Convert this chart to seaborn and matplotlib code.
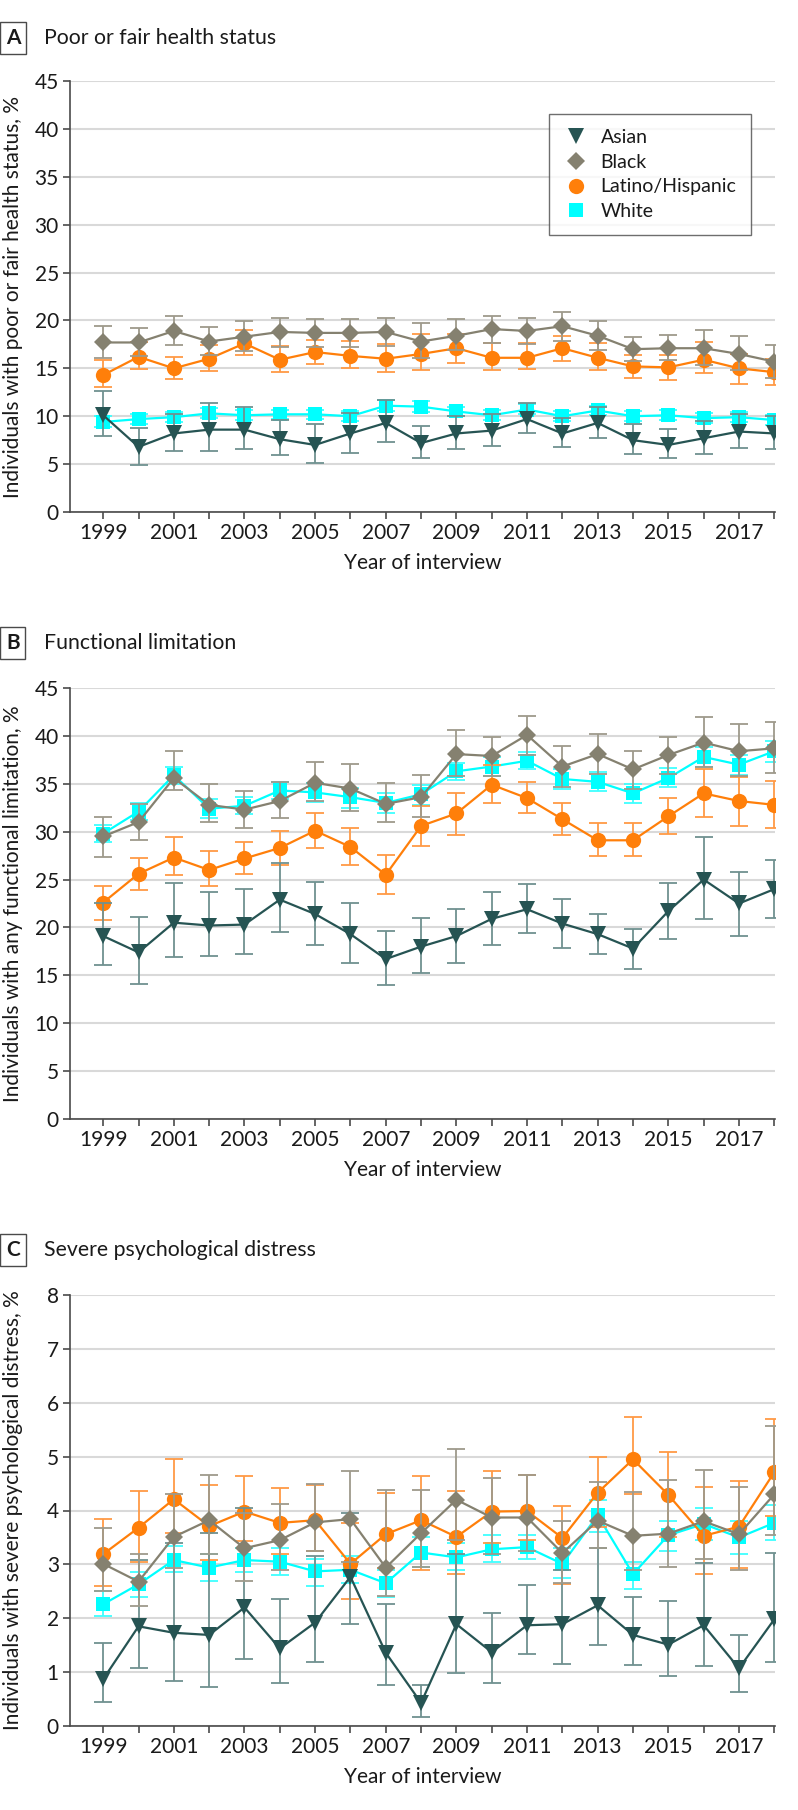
import matplotlib
matplotlib.use("Agg")
import matplotlib.pyplot as plt
from matplotlib.lines import Line2D
import pandas as pd
import seaborn as sns

years = list(range(1999, 2019))
year_labels = [str(y) if y % 2 == 1 else "" for y in years]
groups = ["Asian", "Black", "Latino/Hispanic", "White"]

# A: poor or fair health status
a_asian = [10.1, 6.8, 8.2, 8.6, 8.6, 7.6, 7.0, 8.2, 9.3, 7.2, 8.2, 8.5, 9.7, 8.2, 9.3, 7.5, 7.0, 7.7, 8.4, 8.2]
a_asian_lo = [7.9, 4.9, 6.4, 6.4, 6.6, 5.9, 5.1, 6.2, 7.3, 5.6, 6.6, 6.9, 8.3, 6.8, 7.7, 6.1, 5.6, 6.1, 6.7, 6.6]
a_asian_hi = [12.6, 8.8, 10.2, 11.4, 11.0, 9.6, 9.2, 10.3, 11.7, 9.0, 10.0, 10.2, 11.4, 9.8, 11.0, 9.2, 8.7, 9.5, 10.2, 10.0]
a_black = [17.7, 17.7, 18.9, 17.8, 18.3, 18.8, 18.7, 18.7, 18.8, 17.8, 18.4, 19.1, 18.9, 19.4, 18.4, 17.0, 17.1, 17.1, 16.5, 15.7]
a_black_lo = [16.1, 16.3, 17.4, 16.4, 16.8, 17.2, 17.2, 17.2, 17.3, 16.1, 16.9, 17.6, 17.5, 17.9, 16.9, 15.8, 15.9, 15.3, 14.8, 14.0]
a_black_hi = [19.4, 19.2, 20.5, 19.3, 19.9, 20.3, 20.1, 20.1, 20.3, 19.7, 20.1, 20.5, 20.3, 20.9, 19.9, 18.3, 18.5, 19.0, 18.4, 17.4]
a_latino = [14.3, 16.2, 15.0, 16.0, 17.6, 15.9, 16.7, 16.3, 16.0, 16.5, 17.1, 16.1, 16.1, 17.1, 16.1, 15.2, 15.1, 15.9, 15.0, 14.6]
a_latino_lo = [13.0, 14.9, 13.9, 14.7, 16.4, 14.6, 15.5, 15.0, 14.6, 14.8, 15.6, 14.8, 14.9, 15.8, 14.8, 14.0, 13.8, 14.5, 13.4, 13.3]
a_latino_hi = [15.9, 17.7, 16.2, 17.4, 19.0, 17.3, 18.0, 17.9, 17.5, 18.6, 18.6, 17.6, 17.6, 18.4, 17.6, 16.4, 16.4, 17.7, 16.5, 16.0]
a_white = [9.4, 9.7, 9.9, 10.3, 10.1, 10.2, 10.2, 10.0, 11.1, 11.0, 10.5, 10.1, 10.7, 10.0, 10.6, 10.0, 10.1, 9.8, 9.9, 9.6]
a_white_lo = [8.9, 9.2, 9.4, 9.8, 9.6, 9.7, 9.7, 9.5, 10.5, 10.4, 10.0, 9.6, 10.2, 9.5, 10.1, 9.5, 9.6, 9.3, 9.4, 9.1]
a_white_hi = [10.0, 10.2, 10.4, 10.9, 10.7, 10.7, 10.7, 10.5, 11.7, 11.6, 11.0, 10.6, 11.3, 10.5, 11.1, 10.5, 10.6, 10.3, 10.4, 10.1]

# B: functional limitation
b_asian = [19.1, 17.4, 20.5, 20.2, 20.3, 22.9, 21.4, 19.3, 16.7, 18.0, 19.1, 20.9, 21.9, 20.4, 19.3, 17.8, 21.7, 25.0, 22.5, 24.0]
b_asian_lo = [16.1, 14.1, 16.9, 17.0, 17.2, 19.5, 18.2, 16.3, 14.0, 15.2, 16.3, 18.2, 19.4, 17.9, 17.2, 15.7, 18.8, 20.9, 19.1, 21.0]
b_asian_hi = [22.5, 21.1, 24.6, 23.7, 24.0, 26.7, 24.7, 22.5, 19.6, 21.0, 21.9, 23.7, 24.5, 23.0, 21.4, 19.8, 24.6, 29.4, 25.8, 27.0]
b_black = [29.5, 31.0, 35.6, 32.8, 32.3, 33.2, 35.1, 34.5, 32.9, 33.6, 38.1, 37.9, 40.1, 36.8, 38.1, 36.5, 38.0, 39.3, 38.4, 38.7]
b_black_lo = [27.4, 29.1, 34.4, 31.0, 30.4, 31.4, 33.2, 32.2, 31.0, 31.5, 35.8, 35.8, 38.0, 34.7, 36.0, 34.5, 36.0, 36.8, 35.8, 36.1]
b_black_hi = [31.5, 32.9, 38.4, 35.0, 34.2, 35.2, 37.3, 37.1, 35.1, 35.9, 40.6, 39.9, 42.1, 38.9, 40.2, 38.4, 39.9, 42.0, 41.2, 41.4]
b_latino = [22.6, 25.6, 27.3, 26.0, 27.2, 28.3, 30.1, 28.4, 25.5, 30.6, 31.9, 34.9, 33.5, 31.3, 29.1, 29.1, 31.6, 34.0, 33.2, 32.8]
b_latino_lo = [20.8, 23.9, 25.5, 24.3, 25.6, 26.5, 28.3, 26.5, 23.5, 28.5, 29.7, 33.0, 32.0, 29.7, 27.5, 27.5, 29.8, 31.5, 30.6, 30.4]
b_latino_hi = [24.3, 27.2, 29.4, 28.0, 28.9, 30.1, 31.9, 30.4, 27.6, 32.7, 34.0, 37.0, 35.2, 33.0, 30.9, 30.9, 33.5, 36.5, 35.7, 35.3]
b_white = [29.8, 32.1, 35.9, 32.4, 32.7, 34.3, 34.1, 33.6, 33.0, 33.9, 36.3, 36.8, 37.4, 35.5, 35.2, 34.0, 35.6, 37.8, 37.0, 38.4]
b_white_lo = [28.9, 31.2, 35.0, 31.4, 31.8, 33.4, 33.1, 32.5, 32.0, 32.8, 35.4, 35.8, 36.5, 34.5, 34.2, 33.0, 34.7, 36.8, 35.9, 37.3]
b_white_hi = [30.7, 33.0, 36.8, 33.4, 33.6, 35.2, 35.1, 34.6, 34.0, 34.9, 37.2, 37.8, 38.3, 36.5, 36.2, 35.0, 36.6, 38.8, 38.0, 39.5]

# C: severe psychological distress
c_asian = [0.87, 1.85, 1.73, 1.69, 2.20, 1.44, 1.92, 2.77, 1.36, 0.43, 1.89, 1.37, 1.87, 1.89, 2.24, 1.69, 1.51, 1.87, 1.07, 1.98]
c_asian_lo = [0.44, 1.08, 0.84, 0.73, 1.25, 0.80, 1.18, 1.89, 0.77, 0.16, 0.99, 0.80, 1.33, 1.16, 1.51, 1.13, 0.92, 1.12, 0.63, 1.18]
c_asian_hi = [1.54, 3.09, 3.40, 3.58, 4.04, 2.36, 3.16, 3.95, 2.27, 0.77, 3.20, 2.09, 2.61, 2.90, 3.30, 2.39, 2.32, 3.03, 1.69, 3.21]
c_black = [3.01, 2.68, 3.51, 3.82, 3.30, 3.45, 3.78, 3.84, 2.94, 3.58, 4.20, 3.87, 3.87, 3.21, 3.81, 3.53, 3.57, 3.80, 3.56, 4.30]
c_black_lo = [2.50, 2.23, 2.94, 3.19, 2.69, 2.90, 3.25, 3.05, 2.41, 2.95, 3.45, 3.20, 3.25, 2.65, 3.30, 2.90, 2.95, 3.10, 2.90, 3.55]
c_black_hi = [3.67, 3.20, 4.30, 4.66, 3.95, 4.12, 4.50, 4.74, 4.38, 4.38, 5.14, 4.60, 4.65, 3.81, 4.52, 4.35, 4.57, 4.76, 4.43, 5.56]
c_latino = [3.19, 3.68, 4.21, 3.71, 3.98, 3.77, 3.82, 3.01, 3.56, 3.82, 3.51, 3.98, 3.99, 3.49, 4.33, 4.95, 4.29, 3.53, 3.70, 4.71]
c_latino_lo = [2.60, 3.05, 3.59, 3.09, 3.44, 3.20, 3.25, 2.35, 2.94, 2.89, 2.82, 3.40, 3.45, 2.63, 3.70, 4.30, 3.50, 2.82, 2.93, 3.90]
c_latino_hi = [3.85, 4.36, 4.95, 4.47, 4.64, 4.41, 4.47, 3.76, 4.33, 4.64, 4.37, 4.73, 4.65, 4.09, 4.99, 5.74, 5.08, 4.44, 4.55, 5.70]
c_white = [2.26, 2.63, 3.08, 2.94, 3.08, 3.05, 2.87, 2.90, 2.65, 3.22, 3.13, 3.28, 3.32, 3.01, 3.91, 2.82, 3.54, 3.75, 3.50, 3.77]
c_white_lo = [2.05, 2.40, 2.85, 2.70, 2.85, 2.80, 2.60, 2.65, 2.40, 2.95, 2.90, 3.05, 3.10, 2.75, 3.60, 2.55, 3.25, 3.45, 3.20, 3.45]
c_white_hi = [2.50, 2.85, 3.35, 3.20, 3.30, 3.30, 3.10, 3.15, 2.90, 3.50, 3.40, 3.55, 3.55, 3.30, 4.20, 3.05, 3.80, 4.05, 3.80, 4.10]

panels = [
    ("A", "Poor or fair health status", "Individuals with poor or fair health status, %",
     [0, 45, 5], [(a_asian, a_asian_lo, a_asian_hi), (a_black, a_black_lo, a_black_hi),
                  (a_latino, a_latino_lo, a_latino_hi), (a_white, a_white_lo, a_white_hi)]),
    ("B", "Functional limitation", "Individuals with any functional limitation, %",
     [0, 45, 5], [(b_asian, b_asian_lo, b_asian_hi), (b_black, b_black_lo, b_black_hi),
                  (b_latino, b_latino_lo, b_latino_hi), (b_white, b_white_lo, b_white_hi)]),
    ("C", "Severe psychological distress", "Individuals with severe psychological distress, %",
     [0, 8, 1], [(c_asian, c_asian_lo, c_asian_hi), (c_black, c_black_lo, c_black_hi),
                 (c_latino, c_latino_lo, c_latino_hi), (c_white, c_white_lo, c_white_hi)]),
]

colors = {"Asian": "#265453", "Black": "#858170", "Latino/Hispanic": "#ff7f0a", "White": "#00ffff"}
err_colors = {"Asian": "#6f9190", "Black": "#9e9a8b", "Latino/Hispanic": "#ff9a45", "White": "#3fffff"}
markers = {"Asian": "v", "Black": "D", "Latino/Hispanic": "o", "White": "s"}
msizes = {"Asian": 11, "Black": 9.5, "Latino/Hispanic": 11, "White": 9.5}
zorders = {"White": 3, "Latino/Hispanic": 4, "Asian": 5, "Black": 6}
draw_order = ["White", "Latino/Hispanic", "Asian", "Black"]

sns.set_theme(style="white")
plt.rcParams["font.family"] = ["Lato", "DejaVu Sans"]
spine_col = "#4a4a4a"
txt_col = "#1a1a1a"
fs = 15

fig = plt.figure(figsize=(7.98, 18.10), dpi=100)
ax_tops = [81, 688, 1295]
title_y = [38, 643, 1250]
H, W = 1810, 798

for (letter, title, ylabel, yr, series), top, ty in zip(panels, ax_tops, title_y):
    ax = fig.add_axes([70 / W, 1 - (top + 431) / H, 705 / W, 431 / H])
    rows = []
    for g, (vals, lo, hi) in zip(groups, series):
        for y, v, l, h in zip(years, vals, lo, hi):
            rows.append({"year": y, "value": v, "lo": l, "hi": h, "group": g})
    df = pd.DataFrame(rows)

    for g in draw_order:
        d = df[df.group == g]
        ax.errorbar(d.year, d.value, yerr=[d.value - d.lo, d.hi - d.value], fmt="none",
                    ecolor=err_colors[g], elinewidth=1.3, capsize=6.5, capthick=1.3,
                    zorder=zorders[g] - 0.5)
        sns.lineplot(data=d, x="year", y="value", color=colors[g], marker=markers[g],
                     markersize=msizes[g], markeredgewidth=0, linewidth=1.6,
                     ax=ax, zorder=zorders[g], legend=False)

    ax.set_xlim(1998.06, 2018.02)
    ax.set_ylim(yr[0], yr[1])
    ax.set_yticks(range(yr[0], yr[1] + 1, yr[2]))
    ax.set_xticks(years)
    ax.set_xticklabels(year_labels)
    ax.yaxis.grid(True, color="#d9d9d9", linewidth=1.5, zorder=0)
    ax.set_axisbelow(True)
    for s in ["top", "right"]:
        ax.spines[s].set_visible(False)
    for s in ["left", "bottom"]:
        ax.spines[s].set_color(spine_col)
        ax.spines[s].set_linewidth(1.2)
    ax.tick_params(axis="both", which="major", length=5, width=1.2, color=spine_col,
                   labelsize=fs, labelcolor=txt_col, pad=3, bottom=True, left=True)
    ax.set_xlabel("Year of interview", fontsize=fs, color=txt_col, labelpad=7)
    ax.set_ylabel(ylabel, fontsize=fs, color=txt_col)
    ax.yaxis.set_label_coords(-0.066, 0.5)

    fig.text(6 / W, 1 - ty / H, letter, fontsize=15, fontweight="bold", ha="left", va="center",
             color=txt_col,
             bbox=dict(boxstyle="square,pad=0.28", facecolor="white", edgecolor=spine_col, linewidth=1))
    fig.text(44 / W, 1 - ty / H, title, fontsize=15.3, ha="left", va="center", color=txt_col)

    if letter == "A":
        handles = [Line2D([], [], linestyle="none", marker=markers[g], color=colors[g],
                          markersize=msizes[g], markeredgewidth=0) for g in groups]
        leg = ax.legend(handles, groups, loc="upper right", bbox_to_anchor=(0.966, 0.923),
                        frameon=True, fancybox=False, fontsize=14, handletextpad=0.6,
                        labelspacing=0.4, borderpad=0.75, handlelength=1.3, borderaxespad=0)
        leg.get_frame().set_edgecolor(spine_col)
        leg.get_frame().set_linewidth(1)
        for t in leg.get_texts():
            t.set_color(txt_col)

fig.savefig("out.png", dpi=100)
